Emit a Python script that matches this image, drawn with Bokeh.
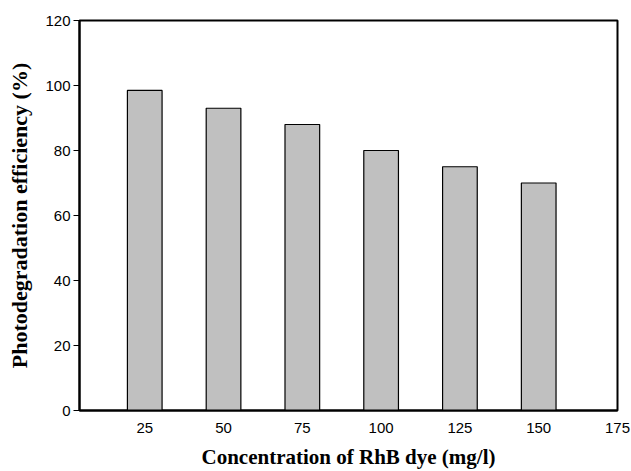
from bokeh.plotting import figure
from bokeh.embed import file_html
from bokeh.resources import INLINE
from bokeh.models import FixedTicker, Range1d

concentrations = [25, 50, 75, 100, 125, 150]
efficiency = [98.5, 93.0, 88.0, 80.0, 75.0, 70.0]
x_ticks = [25, 50, 75, 100, 125, 150, 175]
y_ticks = [0, 20, 40, 60, 80, 100, 120]

p = figure(width=631, height=471, output_backend="svg", toolbar_location=None,
           x_range=Range1d(4.3, 175), y_range=Range1d(0, 120),
           min_border_left=79, min_border_right=14, min_border_top=20, min_border_bottom=61)

p.vbar(x=concentrations, top=efficiency, width=11, fill_color="#c0c0c0",
       line_color="black", line_width=1.2)

p.grid.visible = False
p.outline_line_color = "black"
p.outline_line_width = 2
p.background_fill_color = "white"
p.border_fill_color = "white"

p.xaxis.ticker = FixedTicker(ticks=x_ticks)
p.yaxis.ticker = FixedTicker(ticks=y_ticks)
p.xaxis.major_tick_line_color = None
p.xaxis.minor_tick_line_color = None
p.yaxis.minor_tick_line_color = None
p.yaxis.major_tick_in = 0
p.yaxis.major_tick_out = 6
p.yaxis.major_tick_line_width = 1

for ax in (p.xaxis, p.yaxis):
    ax.axis_line_width = 2
    ax.axis_line_color = "black"
    ax.major_label_text_font = "Liberation Sans"
    ax.major_label_text_font_size = "15px"
    ax.major_label_text_color = "black"
    ax.axis_label_text_font = "Liberation Serif"
    ax.axis_label_text_font_style = "bold"
    ax.axis_label_text_color = "black"

p.xaxis.axis_label_text_font_size = "21px"
p.yaxis.axis_label_text_font_size = "22px"
p.xaxis.axis_label = "Concentration of RhB dye (mg/l)"
p.yaxis.axis_label = "Photodegradation efficiency (%)"
p.xaxis.major_label_standoff = 6
p.xaxis.axis_label_standoff = 9
p.yaxis.major_label_standoff = 3
p.yaxis.axis_label_standoff = 10

open("out.html", "w").write(file_html(p, INLINE))
